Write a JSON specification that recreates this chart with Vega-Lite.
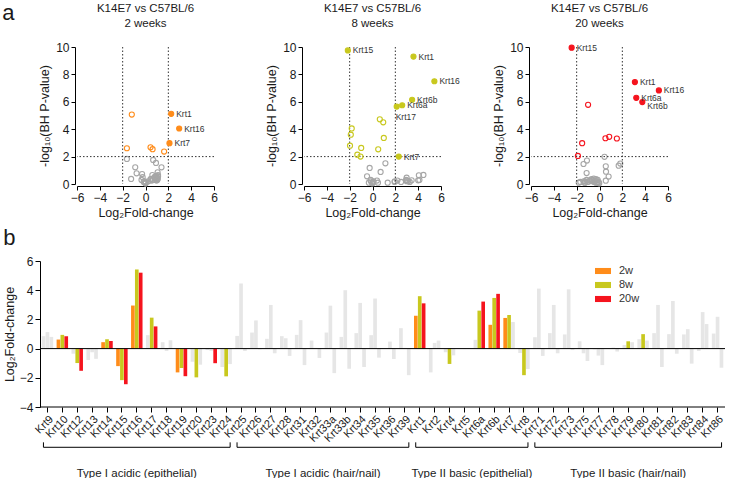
{
"$schema": "https://vega.github.io/schema/vega-lite/v6.json",
"background": "white",
"padding": {"left": 2, "top": 1, "right": 0, "bottom": 0},
"datasets": {
"thr": [{"t": -2}, {"t": 2}],
"span": [{"first": "Krt9", "last": "Krt86"}],
"groups": [
{"group": "Type I acidic (epithelial)", "first": "Krt9", "last": "Krt24", "mid": "Krt16", "between": false},
{"group": "Type I acidic (hair/nail)", "first": "Krt25", "last": "Krt39", "mid": "Krt32", "between": true},
{"group": "Type II basic (epithelial)", "first": "Krt1", "last": "Krt8", "mid": "Krt5", "between": true},
{"group": "Type II basic (hair/nail)", "first": "Krt71", "last": "Krt86", "mid": "Krt79", "between": false}
],
"kd": [
{"gene":"Krt9","time":"2w","lfc":0.85,"nlp":0.5,"sig":false},
{"gene":"Krt10","time":"2w","lfc":0.62,"nlp":2.54,"sig":true},
{"gene":"Krt12","time":"2w","lfc":-0.35,"nlp":0.3,"sig":false},
{"gene":"Krt13","time":"2w","lfc":-0.78,"nlp":0.78,"sig":false},
{"gene":"Krt14","time":"2w","lfc":0.44,"nlp":2.68,"sig":true},
{"gene":"Krt15","time":"2w","lfc":-1.2,"nlp":5.07,"sig":true},
{"gene":"Krt16","time":"2w","lfc":2.95,"nlp":4.05,"sig":true},
{"gene":"Krt17","time":"2w","lfc":0.92,"nlp":1.54,"sig":false},
{"gene":"Krt18","time":"2w","lfc":0.44,"nlp":0.35,"sig":false},
{"gene":"Krt19","time":"2w","lfc":-1.63,"nlp":2.61,"sig":true},
{"gene":"Krt20","time":"2w","lfc":-0.9,"nlp":1.22,"sig":false},
{"gene":"Krt23","time":"2w","lfc":-0.1,"nlp":0.2,"sig":false},
{"gene":"Krt24","time":"2w","lfc":-1.26,"nlp":0.37,"sig":false},
{"gene":"Krt25","time":"2w","lfc":0.87,"nlp":0.45,"sig":false},
{"gene":"Krt26","time":"2w","lfc":1.1,"nlp":0.55,"sig":false},
{"gene":"Krt27","time":"2w","lfc":0.67,"nlp":1.76,"sig":false},
{"gene":"Krt28","time":"2w","lfc":0.85,"nlp":0.4,"sig":false},
{"gene":"Krt31","time":"2w","lfc":0.94,"nlp":0.35,"sig":false},
{"gene":"Krt32","time":"2w","lfc":0.55,"nlp":0.25,"sig":false},
{"gene":"Krt33a","time":"2w","lfc":1.1,"nlp":0.65,"sig":false},
{"gene":"Krt33b","time":"2w","lfc":0.8,"nlp":0.3,"sig":false},
{"gene":"Krt34","time":"2w","lfc":1.06,"nlp":0.85,"sig":false},
{"gene":"Krt35","time":"2w","lfc":0.92,"nlp":0.6,"sig":false},
{"gene":"Krt36","time":"2w","lfc":0.02,"nlp":0.15,"sig":false},
{"gene":"Krt39","time":"2w","lfc":1.4,"nlp":1.22,"sig":false},
{"gene":"Krt1","time":"2w","lfc":2.25,"nlp":5.12,"sig":true},
{"gene":"Krt2","time":"2w","lfc":-1.63,"nlp":1.83,"sig":false},
{"gene":"Krt4","time":"2w","lfc":-0.25,"nlp":0.5,"sig":false},
{"gene":"Krt5","time":"2w","lfc":0.02,"nlp":0.05,"sig":false},
{"gene":"Krt6a","time":"2w","lfc":0.6,"nlp":0.65,"sig":false},
{"gene":"Krt6b","time":"2w","lfc":1.63,"nlp":2.37,"sig":true},
{"gene":"Krt7","time":"2w","lfc":2.1,"nlp":2.98,"sig":true},
{"gene":"Krt8","time":"2w","lfc":-0.3,"nlp":0.73,"sig":false},
{"gene":"Krt71","time":"2w","lfc":0.78,"nlp":0.5,"sig":false},
{"gene":"Krt72","time":"2w","lfc":1.06,"nlp":0.4,"sig":false},
{"gene":"Krt73","time":"2w","lfc":0.97,"nlp":0.45,"sig":false},
{"gene":"Krt75","time":"2w","lfc":0.5,"nlp":0.35,"sig":false},
{"gene":"Krt77","time":"2w","lfc":-0.05,"nlp":0.1,"sig":false},
{"gene":"Krt78","time":"2w","lfc":0.0,"nlp":0.05,"sig":false},
{"gene":"Krt79","time":"2w","lfc":0.25,"nlp":0.2,"sig":false},
{"gene":"Krt80","time":"2w","lfc":0.64,"nlp":0.3,"sig":false},
{"gene":"Krt81","time":"2w","lfc":1.06,"nlp":0.35,"sig":false},
{"gene":"Krt82","time":"2w","lfc":0.99,"nlp":0.55,"sig":false},
{"gene":"Krt83","time":"2w","lfc":0.97,"nlp":0.25,"sig":false},
{"gene":"Krt84","time":"2w","lfc":-0.16,"nlp":0.15,"sig":false},
{"gene":"Krt86","time":"2w","lfc":1.03,"nlp":0.3,"sig":false},
{"gene":"Krt9","time":"8w","lfc":1.13,"nlp":1.51,"sig":false},
{"gene":"Krt10","time":"8w","lfc":0.94,"nlp":4.5,"sig":true},
{"gene":"Krt12","time":"8w","lfc":-0.99,"nlp":2.63,"sig":true},
{"gene":"Krt13","time":"8w","lfc":-0.25,"nlp":1.17,"sig":false},
{"gene":"Krt14","time":"8w","lfc":0.64,"nlp":4.72,"sig":true},
{"gene":"Krt15","time":"8w","lfc":-2.16,"nlp":9.75,"sig":true},
{"gene":"Krt16","time":"8w","lfc":5.42,"nlp":7.5,"sig":true},
{"gene":"Krt17","time":"8w","lfc":2.12,"nlp":5.65,"sig":true},
{"gene":"Krt18","time":"8w","lfc":-0.16,"nlp":0.3,"sig":false},
{"gene":"Krt19","time":"8w","lfc":-1.33,"nlp":2.14,"sig":true},
{"gene":"Krt20","time":"8w","lfc":-1.97,"nlp":2.8,"sig":true},
{"gene":"Krt23","time":"8w","lfc":-0.15,"nlp":0.2,"sig":false},
{"gene":"Krt24","time":"8w","lfc":-1.9,"nlp":3.6,"sig":true},
{"gene":"Krt25","time":"8w","lfc":4.46,"nlp":0.66,"sig":false},
{"gene":"Krt26","time":"8w","lfc":1.93,"nlp":0.15,"sig":false},
{"gene":"Krt27","time":"8w","lfc":2.99,"nlp":0.46,"sig":false},
{"gene":"Krt28","time":"8w","lfc":0.71,"nlp":0.88,"sig":false},
{"gene":"Krt31","time":"8w","lfc":1.95,"nlp":0.2,"sig":false},
{"gene":"Krt32","time":"8w","lfc":0.05,"nlp":0.15,"sig":false},
{"gene":"Krt33a","time":"8w","lfc":2.94,"nlp":0.3,"sig":false},
{"gene":"Krt33b","time":"8w","lfc":4.0,"nlp":0.27,"sig":false},
{"gene":"Krt34","time":"8w","lfc":3.13,"nlp":0.2,"sig":false},
{"gene":"Krt35","time":"8w","lfc":3.43,"nlp":0.27,"sig":false},
{"gene":"Krt36","time":"8w","lfc":0.48,"nlp":0.1,"sig":false},
{"gene":"Krt39","time":"8w","lfc":0.05,"nlp":0.1,"sig":false},
{"gene":"Krt1","time":"8w","lfc":3.59,"nlp":9.3,"sig":true},
{"gene":"Krt2","time":"8w","lfc":0.39,"nlp":0.25,"sig":false},
{"gene":"Krt4","time":"8w","lfc":-1.05,"nlp":2.0,"sig":true},
{"gene":"Krt5","time":"8w","lfc":-0.03,"nlp":0.05,"sig":false},
{"gene":"Krt6a","time":"8w","lfc":2.6,"nlp":5.75,"sig":true},
{"gene":"Krt6b","time":"8w","lfc":3.47,"nlp":6.15,"sig":true},
{"gene":"Krt7","time":"8w","lfc":2.3,"nlp":2.0,"sig":true},
{"gene":"Krt8","time":"8w","lfc":-1.82,"nlp":4.06,"sig":true},
{"gene":"Krt71","time":"8w","lfc":4.11,"nlp":0.3,"sig":false},
{"gene":"Krt72","time":"8w","lfc":2.99,"nlp":0.25,"sig":false},
{"gene":"Krt73","time":"8w","lfc":4.06,"nlp":0.63,"sig":false},
{"gene":"Krt75","time":"8w","lfc":-0.32,"nlp":0.1,"sig":false},
{"gene":"Krt77","time":"8w","lfc":-0.48,"nlp":0.56,"sig":false},
{"gene":"Krt78","time":"8w","lfc":0.07,"nlp":0.2,"sig":false},
{"gene":"Krt79","time":"8w","lfc":0.5,"nlp":2.53,"sig":true},
{"gene":"Krt80","time":"8w","lfc":0.99,"nlp":3.36,"sig":true},
{"gene":"Krt81","time":"8w","lfc":2.99,"nlp":0.2,"sig":false},
{"gene":"Krt82","time":"8w","lfc":3.26,"nlp":0.15,"sig":false},
{"gene":"Krt83","time":"8w","lfc":1.33,"nlp":0.1,"sig":false},
{"gene":"Krt84","time":"8w","lfc":2.5,"nlp":0.15,"sig":false},
{"gene":"Krt86","time":"8w","lfc":2.18,"nlp":0.25,"sig":false},
{"gene":"Krt9","time":"20w","lfc":0.8,"nlp":0.54,"sig":false},
{"gene":"Krt10","time":"20w","lfc":0.85,"nlp":3.44,"sig":true},
{"gene":"Krt12","time":"20w","lfc":-1.52,"nlp":2.98,"sig":true},
{"gene":"Krt13","time":"20w","lfc":-0.7,"nlp":0.35,"sig":false},
{"gene":"Krt14","time":"20w","lfc":0.52,"nlp":3.34,"sig":true},
{"gene":"Krt15","time":"20w","lfc":-2.44,"nlp":9.95,"sig":true},
{"gene":"Krt16","time":"20w","lfc":5.2,"nlp":6.83,"sig":true},
{"gene":"Krt17","time":"20w","lfc":1.52,"nlp":3.32,"sig":true},
{"gene":"Krt18","time":"20w","lfc":0.57,"nlp":0.9,"sig":false},
{"gene":"Krt19","time":"20w","lfc":-1.89,"nlp":2.05,"sig":true},
{"gene":"Krt20","time":"20w","lfc":-1.1,"nlp":1.71,"sig":false},
{"gene":"Krt23","time":"20w","lfc":-1.0,"nlp":5.78,"sig":true},
{"gene":"Krt24","time":"20w","lfc":-1.06,"nlp":0.15,"sig":false},
{"gene":"Krt25","time":"20w","lfc":-0.16,"nlp":0.3,"sig":false},
{"gene":"Krt26","time":"20w","lfc":-0.05,"nlp":0.1,"sig":false},
{"gene":"Krt27","time":"20w","lfc":-0.32,"nlp":0.35,"sig":false},
{"gene":"Krt28","time":"20w","lfc":-0.5,"nlp":0.4,"sig":false},
{"gene":"Krt31","time":"20w","lfc":-1.13,"nlp":0.8,"sig":false},
{"gene":"Krt32","time":"20w","lfc":-0.64,"nlp":0.3,"sig":false},
{"gene":"Krt33a","time":"20w","lfc":-1.68,"nlp":0.15,"sig":false},
{"gene":"Krt33b","time":"20w","lfc":-1.38,"nlp":0.2,"sig":false},
{"gene":"Krt34","time":"20w","lfc":-1.26,"nlp":0.1,"sig":false},
{"gene":"Krt35","time":"20w","lfc":-0.62,"nlp":0.25,"sig":false},
{"gene":"Krt36","time":"20w","lfc":-0.71,"nlp":0.2,"sig":false},
{"gene":"Krt39","time":"20w","lfc":-1.82,"nlp":0.1,"sig":false},
{"gene":"Krt1","time":"20w","lfc":3.1,"nlp":7.44,"sig":true},
{"gene":"Krt2","time":"20w","lfc":0.55,"nlp":0.24,"sig":false},
{"gene":"Krt4","time":"20w","lfc":-0.46,"nlp":0.15,"sig":false},
{"gene":"Krt5","time":"20w","lfc":-0.02,"nlp":0.05,"sig":false},
{"gene":"Krt6a","time":"20w","lfc":3.22,"nlp":6.29,"sig":true},
{"gene":"Krt6b","time":"20w","lfc":3.75,"nlp":5.98,"sig":true},
{"gene":"Krt7","time":"20w","lfc":1.82,"nlp":1.49,"sig":false},
{"gene":"Krt8","time":"20w","lfc":-1.4,"nlp":1.46,"sig":false},
{"gene":"Krt71","time":"20w","lfc":-0.5,"nlp":0.2,"sig":false},
{"gene":"Krt72","time":"20w","lfc":-0.32,"nlp":0.1,"sig":false},
{"gene":"Krt73","time":"20w","lfc":-0.1,"nlp":0.15,"sig":false},
{"gene":"Krt75","time":"20w","lfc":-0.85,"nlp":0.25,"sig":false},
{"gene":"Krt77","time":"20w","lfc":-1.13,"nlp":0.3,"sig":false},
{"gene":"Krt78","time":"20w","lfc":-0.2,"nlp":0.1,"sig":false},
{"gene":"Krt79","time":"20w","lfc":0.44,"nlp":1.98,"sig":false},
{"gene":"Krt80","time":"20w","lfc":0.55,"nlp":1.29,"sig":false},
{"gene":"Krt81","time":"20w","lfc":-1.26,"nlp":0.2,"sig":false},
{"gene":"Krt82","time":"20w","lfc":-0.35,"nlp":0.25,"sig":false},
{"gene":"Krt83","time":"20w","lfc":-1.03,"nlp":0.15,"sig":false},
{"gene":"Krt84","time":"20w","lfc":1.68,"nlp":1.34,"sig":false},
{"gene":"Krt86","time":"20w","lfc":-1.31,"nlp":0.1,"sig":false}
]
},
"resolve": {"legend": {"color": "independent"}, "scale": {"color": "independent"}},
"columns": 1,
"align": "none",
"spacing": 8,
"concat": [
{
"title": {"text": "a", "orient": "left", "anchor": "end", "angle": 0, "align": "right", "baseline": "top", "fontSize": 22, "offset": 12},
"bounds": "flush",
"spacing": 90,
"hconcat": [
{
"width": 137, "height": 137,
"title": {"text": ["K14E7 vs C57BL/6", "2 weeks"], "anchor": "middle", "frame": "group", "offset": 12, "lineHeight": 15},
"layer": [
{"data": {"name": "kd"}, "transform": [{"filter": "datum.time == '2w' && !datum.sig"}],
 "mark": {"type": "circle", "filled": false, "color": "#A6A6A6", "strokeWidth": 1.1, "size": 26, "opacity": 1},
 "encoding": {
  "x": {"field": "lfc", "type": "quantitative", "scale": {"domain": [-6, 6], "nice": false}, "axis": {"tickCount": 7, "labelOverlap": false, "labelFlush": false, "title": "Log₂Fold-change", "titlePadding": 3, "offset": 2}},
  "y": {"field": "nlp", "type": "quantitative", "scale": {"domain": [0, 10], "nice": false}, "axis": {"tickCount": 6, "labelOverlap": false, "labelFlush": false, "title": "-log₁₀(BH P-value)", "titlePadding": 4, "offset": 2}}}},
{"data": {"name": "thr"}, "mark": {"type": "rule", "strokeDash": [1.5, 2], "color": "#333", "strokeWidth": 1},
 "encoding": {"x": {"field": "t", "type": "quantitative"}}},
{"data": {"name": "thr"}, "transform": [{"filter": "datum.t > 0"}], "mark": {"type": "rule", "strokeDash": [1.5, 2], "color": "#333", "strokeWidth": 1},
 "encoding": {"y": {"field": "t", "type": "quantitative"}}},
{"data": {"name": "kd"}, "transform": [{"filter": "datum.time == '2w' && datum.sig"}],
 "mark": {"type": "circle", "strokeWidth": 1.1, "size": 26, "opacity": 1, "stroke": "#FF8C1A"},
 "encoding": {
  "x": {"field": "lfc", "type": "quantitative"},
  "y": {"field": "nlp", "type": "quantitative"},
  "fill": {"condition": {"test": "abs(datum.lfc) >= 2", "value": "#FF8C1A"}, "value": "transparent"}}},
{"data": {"name": "kd"}, "transform": [{"filter": "datum.time == '2w' && datum.sig && abs(datum.lfc) >= 2"}],
 "mark": {"type": "text", "align": "left", "baseline": "middle", "dx": 5, "fontSize": 8.5, "color": "#333"},
 "encoding": {"x": {"field": "lfc", "type": "quantitative"}, "y": {"field": "nlp", "type": "quantitative"}, "text": {"field": "gene"}}}
]
},
{
"width": 137, "height": 137,
"title": {"text": ["K14E7 vs C57BL/6", "8 weeks"], "anchor": "middle", "frame": "group", "offset": 12, "lineHeight": 15},
"layer": [
{"data": {"name": "kd"}, "transform": [{"filter": "datum.time == '8w' && !datum.sig"}],
 "mark": {"type": "circle", "filled": false, "color": "#A6A6A6", "strokeWidth": 1.1, "size": 26, "opacity": 1},
 "encoding": {
  "x": {"field": "lfc", "type": "quantitative", "scale": {"domain": [-6, 6], "nice": false}, "axis": {"tickCount": 7, "labelOverlap": false, "labelFlush": false, "title": "Log₂Fold-change", "titlePadding": 3, "offset": 2}},
  "y": {"field": "nlp", "type": "quantitative", "scale": {"domain": [0, 10], "nice": false}, "axis": {"tickCount": 6, "labelOverlap": false, "labelFlush": false, "title": "-log₁₀(BH P-value)", "titlePadding": 4, "offset": 2}}}},
{"data": {"name": "thr"}, "mark": {"type": "rule", "strokeDash": [1.5, 2], "color": "#333", "strokeWidth": 1},
 "encoding": {"x": {"field": "t", "type": "quantitative"}}},
{"data": {"name": "thr"}, "transform": [{"filter": "datum.t > 0"}], "mark": {"type": "rule", "strokeDash": [1.5, 2], "color": "#333", "strokeWidth": 1},
 "encoding": {"y": {"field": "t", "type": "quantitative"}}},
{"data": {"name": "kd"}, "transform": [{"filter": "datum.time == '8w' && datum.sig"}],
 "mark": {"type": "circle", "strokeWidth": 1.1, "size": 26, "opacity": 1, "stroke": "#C8C81E"},
 "encoding": {
  "x": {"field": "lfc", "type": "quantitative"},
  "y": {"field": "nlp", "type": "quantitative"},
  "fill": {"condition": {"test": "abs(datum.lfc) >= 2", "value": "#C8C81E"}, "value": "transparent"}}},
{"data": {"name": "kd"}, "transform": [{"filter": "datum.time == '8w' && datum.sig && abs(datum.lfc) >= 2 && datum.gene != 'Krt17'"}],
 "mark": {"type": "text", "align": "left", "baseline": "middle", "dx": 5, "fontSize": 8.5, "color": "#333"},
 "encoding": {"x": {"field": "lfc", "type": "quantitative"}, "y": {"field": "nlp", "type": "quantitative"}, "text": {"field": "gene"}}},
{"data": {"name": "kd"}, "transform": [{"filter": "datum.time == '8w' && datum.gene == 'Krt17'"}],
 "mark": {"type": "text", "align": "left", "baseline": "middle", "dx": -1, "dy": 10, "fontSize": 8.5, "color": "#333"},
 "encoding": {"x": {"field": "lfc", "type": "quantitative"}, "y": {"field": "nlp", "type": "quantitative"}, "text": {"field": "gene"}}}
]
},
{
"width": 137, "height": 137,
"title": {"text": ["K14E7 vs C57BL/6", "20 weeks"], "anchor": "middle", "frame": "group", "offset": 12, "lineHeight": 15},
"layer": [
{"data": {"name": "kd"}, "transform": [{"filter": "datum.time == '20w' && !datum.sig"}],
 "mark": {"type": "circle", "filled": false, "color": "#A6A6A6", "strokeWidth": 1.1, "size": 26, "opacity": 1},
 "encoding": {
  "x": {"field": "lfc", "type": "quantitative", "scale": {"domain": [-6, 6], "nice": false}, "axis": {"tickCount": 7, "labelOverlap": false, "labelFlush": false, "title": "Log₂Fold-change", "titlePadding": 3, "offset": 2}},
  "y": {"field": "nlp", "type": "quantitative", "scale": {"domain": [0, 10], "nice": false}, "axis": {"tickCount": 6, "labelOverlap": false, "labelFlush": false, "title": "-log₁₀(BH P-value)", "titlePadding": 4, "offset": 2}}}},
{"data": {"name": "thr"}, "mark": {"type": "rule", "strokeDash": [1.5, 2], "color": "#333", "strokeWidth": 1},
 "encoding": {"x": {"field": "t", "type": "quantitative"}}},
{"data": {"name": "thr"}, "transform": [{"filter": "datum.t > 0"}], "mark": {"type": "rule", "strokeDash": [1.5, 2], "color": "#333", "strokeWidth": 1},
 "encoding": {"y": {"field": "t", "type": "quantitative"}}},
{"data": {"name": "kd"}, "transform": [{"filter": "datum.time == '20w' && datum.sig"}],
 "mark": {"type": "circle", "strokeWidth": 1.1, "size": 26, "opacity": 1, "stroke": "#F5141E"},
 "encoding": {
  "x": {"field": "lfc", "type": "quantitative"},
  "y": {"field": "nlp", "type": "quantitative"},
  "fill": {"condition": {"test": "abs(datum.lfc) >= 2", "value": "#F5141E"}, "value": "transparent"}}},
{"data": {"name": "kd"}, "transform": [{"filter": "datum.time == '20w' && datum.sig && abs(datum.lfc) >= 2 && datum.gene != 'Krt6b'"}],
 "mark": {"type": "text", "align": "left", "baseline": "middle", "dx": 5, "fontSize": 8.5, "color": "#333"},
 "encoding": {"x": {"field": "lfc", "type": "quantitative"}, "y": {"field": "nlp", "type": "quantitative"}, "text": {"field": "gene"}}},
{"data": {"name": "kd"}, "transform": [{"filter": "datum.time == '20w' && datum.gene == 'Krt6b'"}],
 "mark": {"type": "text", "align": "left", "baseline": "middle", "dx": 5, "dy": 4, "fontSize": 8.5, "color": "#333"},
 "encoding": {"x": {"field": "lfc", "type": "quantitative"}, "y": {"field": "nlp", "type": "quantitative"}, "text": {"field": "gene"}}}
]
}
]
},
{
"width": 648, "height": 146,
"title": {"text": "b", "anchor": "start", "frame": "bounds", "fontSize": 22, "offset": 5},
"layer": [
{"data": {"name": "kd"},
 "mark": {"type": "bar"},
 "encoding": {
  "x": {"field": "gene", "type": "nominal", "scale": {"domain": ["Krt9","Krt10","Krt12","Krt13","Krt14","Krt15","Krt16","Krt17","Krt18","Krt19","Krt20","Krt23","Krt24","Krt25","Krt26","Krt27","Krt28","Krt31","Krt32","Krt33a","Krt33b","Krt34","Krt35","Krt36","Krt39","Krt1","Krt2","Krt4","Krt5","Krt6a","Krt6b","Krt7","Krt8","Krt71","Krt72","Krt73","Krt75","Krt77","Krt78","Krt79","Krt80","Krt81","Krt82","Krt83","Krt84","Krt86"], "range": [-37, 648], "paddingInner": 0.23, "paddingOuter": 0.115},
   "axis": {"labelAngle": -45, "labelFontSize": 11, "labelOverlap": false, "title": null, "tickSize": 5, "labelPadding": 1, "domain": false}},
  "xOffset": {"field": "time", "type": "nominal", "scale": {"domain": ["2w","8w","20w"], "paddingInner": 0.06}},
  "y": {"field": "lfc", "type": "quantitative", "scale": {"domain": [-4, 6], "nice": false}, "axis": {"tickCount": 5, "labelOverlap": false, "labelFlush": false, "title": "Log₂Fold-change", "titlePadding": 3, "tickSize": 5, "offset": 37}},
  "color": {"condition": {"test": "datum.sig", "field": "time", "type": "nominal", "scale": {"domain": ["2w","8w","20w"], "range": ["#FF8C1A","#C8C81E","#F5141E"]},
     "legend": {"orient": "none", "legendX": 518, "legendY": 2, "padding": 0, "title": null, "symbolType": "M-1,-0.38H1V0.38H-1Z", "symbolSize": 256, "symbolStrokeWidth": 0, "labelFontSize": 11, "labelColor": "#333", "rowPadding": 1, "labelOffset": 8}},
   "value": "#E6E6E6"}}},
{"data": {"name": "span"}, "mark": {"type": "rule", "color": "#000", "strokeWidth": 1, "xOffset": -7.45, "x2Offset": 7.45},
 "encoding": {"x": {"field": "first", "type": "nominal"}, "x2": {"field": "last"}, "y": {"datum": 0}}},
{"data": {"name": "span"}, "mark": {"type": "rule", "color": "#000", "strokeWidth": 1, "xOffset": -7.45, "x2Offset": 7.45},
 "encoding": {"x": {"field": "first", "type": "nominal"}, "x2": {"field": "last"}, "y": {"datum": -4}}},
{"data": {"name": "groups"}, "mark": {"type": "rule", "color": "#000", "strokeWidth": 1, "xOffset": -4, "x2Offset": 4},
 "encoding": {"x": {"field": "first", "type": "nominal"}, "x2": {"field": "last"}, "y": {"datum": -6.76}}},
{"data": {"name": "groups"}, "mark": {"type": "rule", "color": "#000", "strokeWidth": 1, "xOffset": -4},
 "encoding": {"x": {"field": "first", "type": "nominal"}, "y": {"datum": -6.76}, "y2": {"datum": -6.42}}},
{"data": {"name": "groups"}, "mark": {"type": "rule", "color": "#000", "strokeWidth": 1, "xOffset": 4},
 "encoding": {"x": {"field": "last", "type": "nominal"}, "y": {"datum": -6.76}, "y2": {"datum": -6.42}}},
{"data": {"name": "groups"}, "transform": [{"filter": "!datum.between"}], "mark": {"type": "text", "fontSize": 11.5, "color": "#1a1a1a", "baseline": "middle"},
 "encoding": {"x": {"field": "mid", "type": "nominal"}, "y": {"datum": -8.6}, "text": {"field": "group"}}},
{"data": {"name": "groups"}, "transform": [{"filter": "datum.between"}], "mark": {"type": "text", "fontSize": 11.5, "color": "#1a1a1a", "baseline": "middle", "dx": 7.45},
 "encoding": {"x": {"field": "mid", "type": "nominal"}, "y": {"datum": -8.6}, "text": {"field": "group"}}}
]
}
],
"config": {
 "font": "Liberation Sans",
 "view": {"stroke": null},
 "axis": {"grid": false, "domainColor": "#000", "tickColor": "#000", "labelColor": "#1a1a1a", "titleColor": "#1a1a1a", "titleFontWeight": "normal", "labelFontSize": 12, "titleFontSize": 12.5, "tickSize": 4, "labelPadding": 2, "labelOverlap": false},
 "title": {"fontWeight": "normal", "fontSize": 11.5, "color": "#1a1a1a"}
}
}
